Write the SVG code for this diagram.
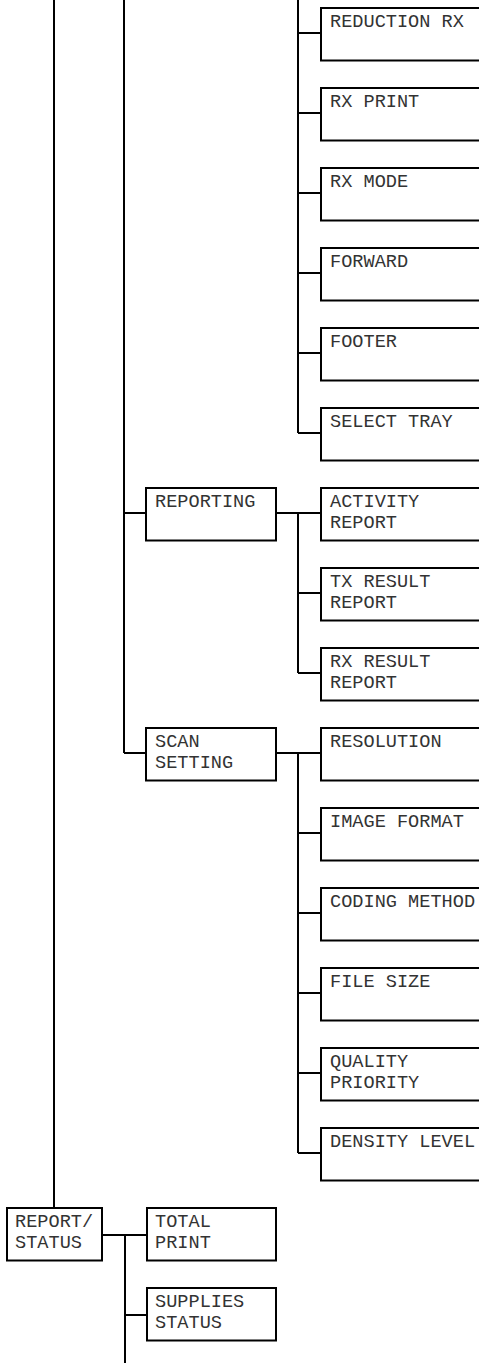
<svg xmlns="http://www.w3.org/2000/svg" width="479" height="1363" viewBox="0 0 479 1363">
<style>
rect{fill:#fff;stroke:#000;stroke-width:2}
path{fill:none;stroke:#000;stroke-width:2}
text{font-family:"Liberation Mono","Courier New",monospace;font-size:18.6px;fill:#333}
</style>
<rect x="0" y="0" width="479" height="1363" style="fill:#fff;stroke:none"/>
<g id="connectors">
<path d="M54 0V1208"/>
<path d="M124 0V753"/>
<path d="M298 0V433"/>
<path d="M298 33H321M298 113H321M298 193H321M298 273H321M298 353H321M298 433H321"/>
<path d="M124 513H146M276 513H321M298 513V673M298 593H321M298 673H321"/>
<path d="M124 753H146M276 753H321M298 753V1153M298 833H321M298 913H321M298 993H321M298 1073H321M298 1153H321"/>
<path d="M102 1235H147M125 1235V1363M125 1315H147"/>
</g>
<g id="n-reduction-rx"><rect x="321" y="8" width="170" height="52.5"/><text x="330" y="26.5">REDUCTION RX</text></g>
<g id="n-rx-print"><rect x="321" y="88" width="170" height="52.5"/><text x="330" y="106.5">RX PRINT</text></g>
<g id="n-rx-mode"><rect x="321" y="168" width="170" height="52.5"/><text x="330" y="186.5">RX MODE</text></g>
<g id="n-forward"><rect x="321" y="248" width="170" height="52.5"/><text x="330" y="266.5">FORWARD</text></g>
<g id="n-footer"><rect x="321" y="328" width="170" height="52.5"/><text x="330" y="346.5">FOOTER</text></g>
<g id="n-select-tray"><rect x="321" y="408" width="170" height="52.5"/><text x="330" y="426.5">SELECT TRAY</text></g>
<g id="n-reporting"><rect x="146" y="488" width="130" height="52.5"/><text x="155" y="506.5">REPORTING</text></g>
<g id="n-activity-report"><rect x="321" y="488" width="170" height="52.5"/><text x="330" y="506.5">ACTIVITY</text><text x="330" y="527.5">REPORT</text></g>
<g id="n-tx-result-report"><rect x="321" y="568" width="170" height="52.5"/><text x="330" y="586.5">TX RESULT</text><text x="330" y="607.5">REPORT</text></g>
<g id="n-rx-result-report"><rect x="321" y="648" width="170" height="52.5"/><text x="330" y="666.5">RX RESULT</text><text x="330" y="687.5">REPORT</text></g>
<g id="n-scan-setting"><rect x="146" y="728" width="130" height="52.5"/><text x="155" y="746.5">SCAN</text><text x="155" y="767.5">SETTING</text></g>
<g id="n-resolution"><rect x="321" y="728" width="170" height="52.5"/><text x="330" y="746.5">RESOLUTION</text></g>
<g id="n-image-format"><rect x="321" y="808" width="170" height="52.5"/><text x="330" y="826.5">IMAGE FORMAT</text></g>
<g id="n-coding-method"><rect x="321" y="888" width="170" height="52.5"/><text x="330" y="906.5">CODING METHOD</text></g>
<g id="n-file-size"><rect x="321" y="968" width="170" height="52.5"/><text x="330" y="986.5">FILE SIZE</text></g>
<g id="n-quality-priority"><rect x="321" y="1048" width="170" height="52.5"/><text x="330" y="1066.5">QUALITY</text><text x="330" y="1087.5">PRIORITY</text></g>
<g id="n-density-level"><rect x="321" y="1128" width="170" height="52.5"/><text x="330" y="1146.5">DENSITY LEVEL</text></g>
<g id="n-report-status"><rect x="7" y="1208" width="95" height="52.5"/><text x="15" y="1226.5">REPORT/</text><text x="15" y="1247.5">STATUS</text></g>
<g id="n-total-print"><rect x="147" y="1208" width="129" height="52.5"/><text x="155" y="1226.5">TOTAL</text><text x="155" y="1247.5">PRINT</text></g>
<g id="n-supplies-status"><rect x="147" y="1288" width="129" height="52.5"/><text x="155" y="1306.5">SUPPLIES</text><text x="155" y="1327.5">STATUS</text></g>
</svg>
